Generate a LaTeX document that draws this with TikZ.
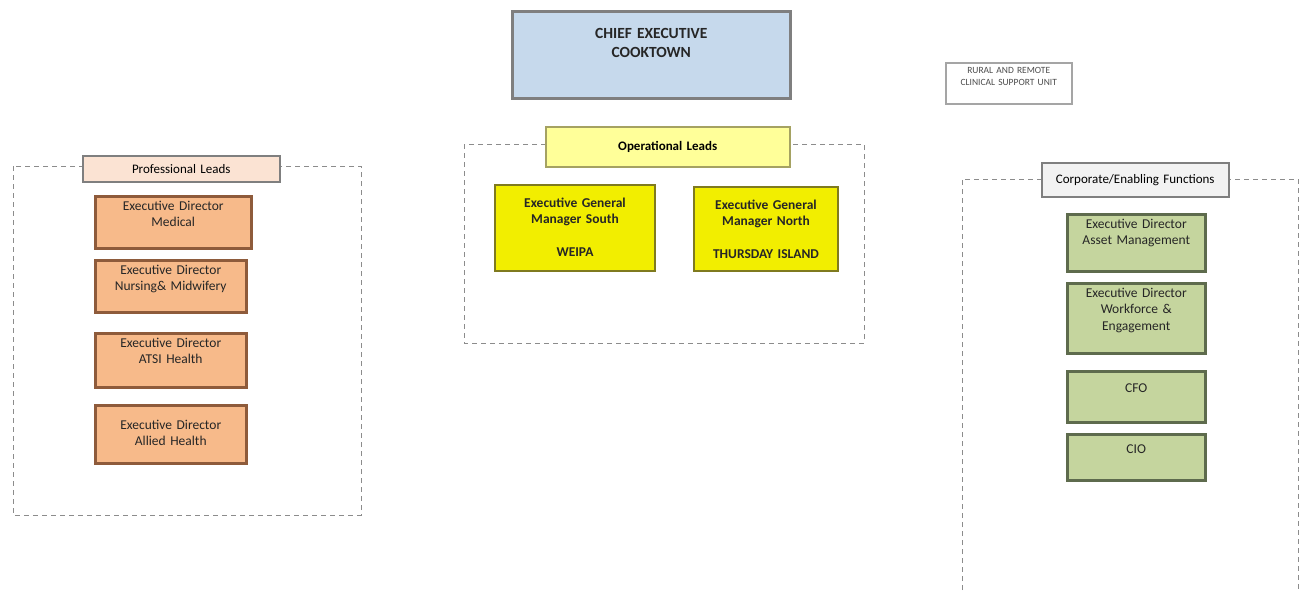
\documentclass[tikz,border=0pt]{standalone}
\usepackage{fontspec}
\setmainfont{Carlito}
\usepackage{tikz}

\definecolor{ceblue}{HTML}{C6D9EC}
\definecolor{boxgray}{HTML}{7F7F7F}
\definecolor{peach}{HTML}{FBE3D3}
\definecolor{orangefill}{HTML}{F7BA8A}
\definecolor{orangeline}{HTML}{8E5B3B}
\definecolor{paleyellow}{HTML}{FFFF99}
\definecolor{yellowfill}{HTML}{F2EE00}
\definecolor{yellowline}{HTML}{7F7A1F}
\definecolor{greenfill}{HTML}{C5D59E}
\definecolor{greenline}{HTML}{5E6B4D}
\definecolor{dashgray}{HTML}{8C8C8C}

\begin{document}
\begin{tikzpicture}[x=1pt,y=-1pt,
    grp/.style={draw=dashgray, line width=1pt, dash pattern=on 5pt off 4pt},
    hbox/.style={draw=boxgray, line width=1.5pt, anchor=north west, inner xsep=2pt, inner ysep=0pt, align=center, font=\fontsize{13}{16}\selectfont},
    ubox/.style={anchor=north west, inner xsep=2pt, inner ysep=3pt, text height=11pt, align=center, font=\fontsize{13.5}{16.5}\selectfont, text=black!85},
    obox/.style={ubox, draw=orangeline, fill=orangefill, line width=2.5pt},
    ybox/.style={ubox, draw=yellowline, fill=yellowfill, line width=2pt, text height=19pt, font=\fontsize{13.5}{16}\selectfont\bfseries},
    gbox/.style={ubox, draw=greenline, fill=greenfill, line width=2.5pt}]
    \useasboundingbox (0,0) rectangle (1301,590);

    % top
    \node[ubox, draw=boxgray, fill=ceblue, line width=2.5pt, text width=274pt, text height=22pt, text depth=55pt, inner ysep=5pt,
          font=\fontsize{15.5}{19}\selectfont\bfseries] (ce) at (511,10) {CHIEF EXECUTIVE\\COOKTOWN};
    \node[ubox, draw=boxgray!70, line width=1.5pt, text width=122pt, text height=9pt, text depth=28pt, inner ysep=2pt,
          font=\fontsize{9.5}{12}\selectfont, text=black!70] (rural) at (945,62) {RURAL AND REMOTE\\CLINICAL SUPPORT UNIT};

    % containers
    \draw[grp] (13,166) rectangle (361,515);
    \draw[grp] (464,144) rectangle (864,343);
    \draw[grp] (962,590) -- (962,179) -- (1298,179) -- (1298,590);

    % professional leads
    \node[hbox, fill=peach, text width=193pt, minimum height=26pt] (prof) at (82,155) {Professional Leads};
    \node[obox, text width=152pt, text depth=35pt] (med) at (94,195) {Executive Director\\Medical};
    \node[obox, text width=147pt, text depth=35pt] (nurse) at (94,259) {Executive Director\\Nursing\& Midwifery};
    \node[obox, text width=147pt, text depth=37pt] (atsi) at (94,332) {Executive Director\\ATSI Health};
    \node[obox, text width=147pt, text height=21pt, text depth=31pt] (allied) at (94,404) {Executive Director\\Allied Health};

    % operational leads
    \node[hbox, draw=yellowline!70, fill=paleyellow, text width=240pt, minimum height=40pt,
          font=\fontsize{13}{16}\selectfont\bfseries] (ops) at (545,126) {Operational Leads};
    \node[ybox, text width=156pt, text depth=61pt] (south) at (494,184) {Executive General\\Manager South\\[17pt]WEIPA};
    \node[ybox, text width=140pt, text depth=59pt] (north) at (693,186) {Executive General\\Manager North\\[17pt]THURSDAY ISLAND};

    % corporate / enabling functions
    \node[hbox, fill=black!5, text width=183pt, minimum height=34pt] (corp) at (1041,162) {Corporate/Enabling Functions};
    \node[gbox, text width=134pt, text depth=40pt] (asset) at (1066,213) {Executive Director\\Asset Management};
    \node[gbox, text width=134pt, text depth=53pt] (work) at (1066,282) {Executive Director\\Workforce \&\\Engagement};
    \node[gbox, text width=134pt, text height=18pt, text depth=27pt] (cfo) at (1066,370) {CFO};
    \node[gbox, text width=134pt, text height=16pt, text depth=24pt] (cio) at (1066,433) {CIO};
\end{tikzpicture}
\end{document}
